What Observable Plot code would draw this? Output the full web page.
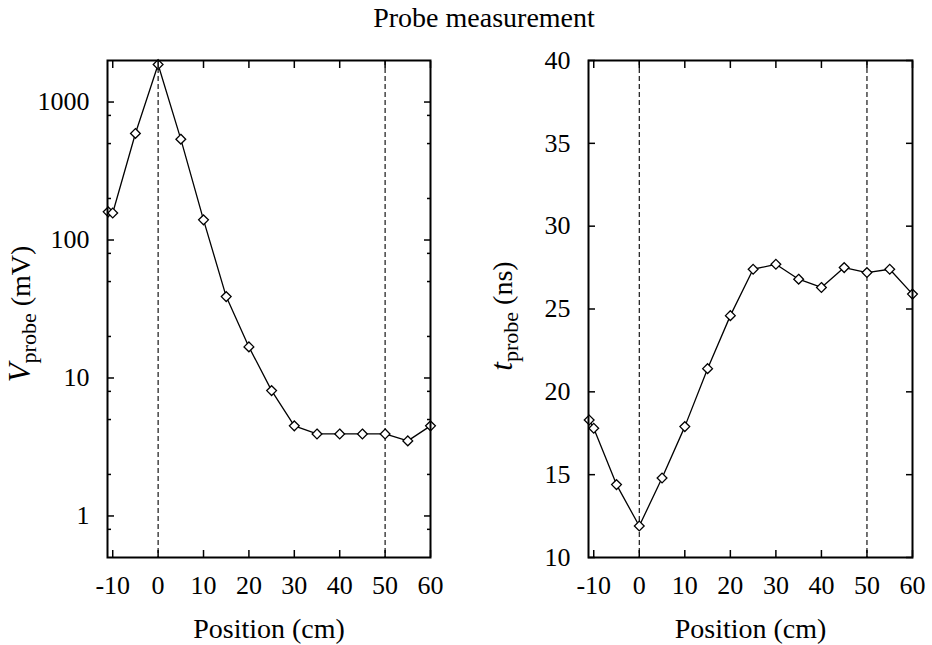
<!DOCTYPE html>
<html>
<head>
<meta charset="utf-8">
<script src="https://cdn.jsdelivr.net/npm/d3@7"></script>
<script src="https://cdn.jsdelivr.net/npm/@observablehq/plot@0.6"></script>
<style>
  body { margin: 0; background: #fff; }
  #fig { position: relative; width: 932px; height: 645px; font-family: "Liberation Serif", serif; color: #000; }
  #title { position: absolute; top: 4px; left: 484px; transform: translateX(-50%); font-size: 28px; line-height: 1; white-space: nowrap; }
  .panel { position: absolute; top: 0; }
</style>
</head>
<body>
<div id="fig"><div id="title">Probe measurement</div></div>
<script>
// Probe position along the line (cm)
const position = [-11, -10, -5, 0, 5, 10, 15, 20, 25, 30, 35, 40, 45, 50, 55, 60];
// Peak probe voltage (mV)
const voltage = [160, 157, 592, 1870, 538, 140, 38.9, 16.8, 8.1, 4.5, 3.93, 3.93, 3.93, 3.93, 3.5, 4.5];
// Probe arrival time (ns)
const delay = [18.3, 17.8, 14.4, 11.9, 14.8, 17.9, 21.4, 24.6, 27.4, 27.7, 26.8, 26.3, 27.5, 27.2, 27.4, 25.9];
// Reference positions marked with dashed lines
const markerPositions = [0, 50];

const xTicks = [-10, 0, 10, 20, 30, 40, 50, 60];
const vMajorTicks = [1, 10, 100, 1000];
const vMinorTicks = [0.8, 2, 5, 8, 20, 50, 80, 200, 500, 800];
const tTicks = [10, 15, 20, 25, 30, 35, 40];

const FONT = "Liberation Serif, serif";

function panel({values, left, marginLeft, marginRight, y, majorTicks, minorTicks, sym, sub, unit, labelX, labelY}) {
  const rows = position.map((p, i) => ({position: p, value: values[i]}));
  const fmt = d => String(d);
  const blank = () => "";
  const marks = [
    Plot.ruleX(markerPositions, {stroke: "black", strokeWidth: 1.1, strokeDasharray: "5,3"}),
    Plot.line(rows, {x: "position", y: "value", stroke: "black", strokeWidth: 1.3}),
    Plot.dot(rows, {x: "position", y: "value", symbol: "diamond2", r: 4.4, stroke: "black", fill: "white", strokeWidth: 1.3}),
    // tick labels
    Plot.axisX(xTicks, {anchor: "bottom", tickSize: 0, tickPadding: 18, tickFormat: fmt, fontSize: 26, label: null}),
    Plot.axisY(majorTicks, {anchor: "left", tickSize: 0, tickPadding: 18, tickFormat: fmt, fontSize: 26, label: null}),
    // inward major ticks on all four sides
    Plot.axisX(xTicks, {anchor: "bottom", tickSize: -7, strokeWidth: 1.5, tickFormat: blank, label: null}),
    Plot.axisX(xTicks, {anchor: "top", tickSize: -7, strokeWidth: 1.5, tickFormat: blank, label: null}),
    Plot.axisY(majorTicks, {anchor: "left", tickSize: -7, strokeWidth: 1.5, tickFormat: blank, label: null}),
    Plot.axisY(majorTicks, {anchor: "right", tickSize: -7, strokeWidth: 1.5, tickFormat: blank, label: null}),
  ];
  if (minorTicks) {
    marks.push(
      Plot.axisY(minorTicks, {anchor: "left", tickSize: -4, strokeWidth: 1.5, tickFormat: blank, label: null}),
      Plot.axisY(minorTicks, {anchor: "right", tickSize: -4, strokeWidth: 1.5, tickFormat: blank, label: null})
    );
  }
  marks.push(
    Plot.frame({stroke: "black", strokeWidth: 2}),
    Plot.text(["Position (cm)"], {frameAnchor: "bottom", lineAnchor: "top", dy: 61, fontSize: 28, text: d => d})
  );

  const svg = Plot.plot({
    width: 466,
    height: 645,
    marginTop: 60,
    marginBottom: 88,
    marginLeft,
    marginRight,
    style: {fontFamily: FONT, fontSize: "26px", color: "#000", background: "transparent", overflow: "visible"},
    x: {domain: [-11.15, 60]},
    y,
    marks
  });

  // rotated y-axis title with subscript
  const label = d3.select(svg).append("text")
    .attr("transform", `translate(${labelX},${labelY}) rotate(-90)`)
    .attr("text-anchor", "middle")
    .attr("font-family", FONT)
    .attr("font-size", 28)
    .attr("fill", "black");
  label.append("tspan").attr("font-style", "italic").attr("font-size", 31).text(sym);
  label.append("tspan").attr("font-size", 22).attr("dy", 6).text(sub);
  label.append("tspan").attr("dy", -6).text("\u00a0" + unit);

  svg.classList.add("panel");
  svg.style.left = left + "px";
  document.getElementById("fig").appendChild(svg);
}

panel({
  values: voltage,
  left: 0,
  marginLeft: 107,
  marginRight: 36,
  y: {type: "log", domain: [0.5, 2000]},
  majorTicks: vMajorTicks,
  minorTicks: vMinorTicks,
  sym: "V", sub: "probe", unit: "(mV)",
  labelX: 30, labelY: 314
});

panel({
  values: delay,
  left: 466,
  marginLeft: 122,
  marginRight: 20,
  y: {domain: [10, 40]},
  majorTicks: tTicks,
  minorTicks: null,
  sym: "t", sub: "probe", unit: "(ns)",
  labelX: 46, labelY: 316
});
</script>
</body>
</html>
